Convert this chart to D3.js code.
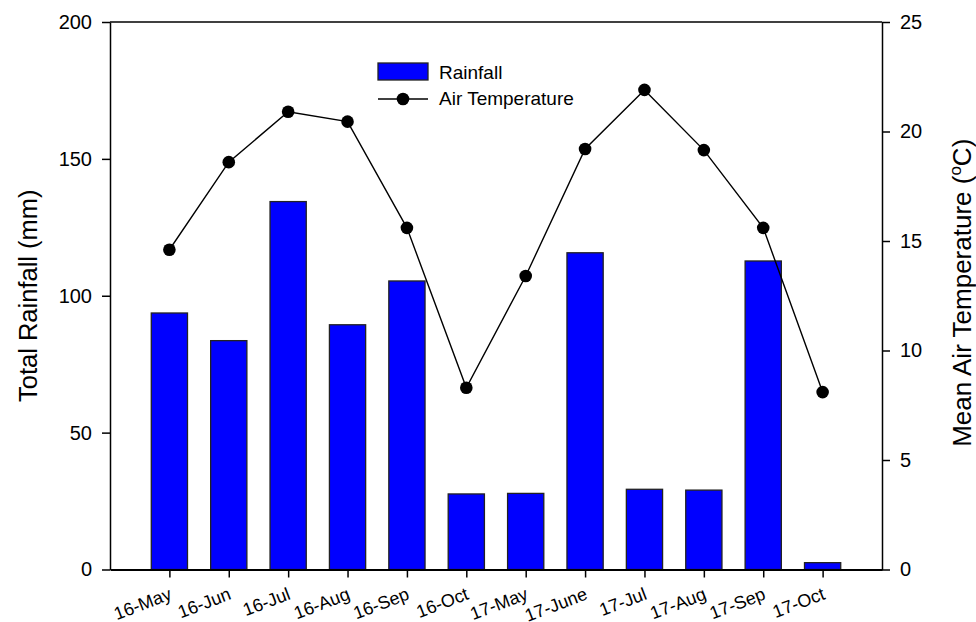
<!DOCTYPE html>
<html>
<head>
<meta charset="utf-8">
<script src="https://cdn.jsdelivr.net/npm/d3@7"></script>
<style>
    body { margin: 0; background: #fff; }
    svg text { font-family: Arial, "Liberation Sans", sans-serif; fill: #000; }
</style>
</head>
<body>
<div class="chart"></div>
<script>
var months = ["16-May", "16-Jun", "16-Jul", "16-Aug", "16-Sep", "16-Oct",
    "17-May", "17-June", "17-Jul", "17-Aug", "17-Sep", "17-Oct"];
var rainfall = [93.7, 83.6, 134.4, 89.4, 105.4, 27.6, 27.8, 115.7, 29.3, 29.0, 112.7, 2.5];
var airTemp = [14.6, 18.6, 20.9, 20.45, 15.6, 8.3, 13.4, 19.2, 21.9, 19.15, 15.6, 8.1];
var rainTicks = [0, 50, 100, 150, 200];
var tempTicks = [0, 5, 10, 15, 20, 25];

var width = 976, height = 622;
var margin = { left: 110, right: 94, top: 22, bottom: 52.5 };
var w = width - margin.left - margin.right;
var h = height - margin.top - margin.bottom;

var svg = d3.select(".chart").append("svg")
    .attr("width", width)
    .attr("height", height)
    .append("g")
    .attr("transform", "translate(" + margin.left + "," + margin.top + ")");

var xScale = d3.scalePoint()
    .domain(months)
    .range([0, w])
    .padding(1);

var yRain = d3.scaleLinear()
    .domain([0, 200])
    .range([h, 0]);

var yTemp = d3.scaleLinear()
    .domain([0, 25])
    .range([h, 0]);

var barWidth = xScale.step() * 0.61;

// bars
svg.selectAll("rect.bar")
    .data(rainfall)
    .enter().append("rect")
    .attr("class", "bar")
    .attr("x", function (d, i) { return xScale(months[i]) - barWidth / 2; })
    .attr("y", function (d) { return yRain(d); })
    .attr("width", barWidth)
    .attr("height", function (d) { return h - yRain(d); })
    .attr("fill", "#0000ff")
    .attr("stroke", "#222")
    .attr("stroke-width", 1.3);

// temperature line
var line = d3.line()
    .x(function (d, i) { return xScale(months[i]); })
    .y(function (d) { return yTemp(d); });

svg.append("path")
    .datum(airTemp)
    .attr("d", line)
    .attr("fill", "none")
    .attr("stroke", "#000")
    .attr("stroke-width", 1.4);

svg.selectAll("circle.pt")
    .data(airTemp)
    .enter().append("circle")
    .attr("class", "pt")
    .attr("cx", function (d, i) { return xScale(months[i]); })
    .attr("cy", function (d) { return yTemp(d); })
    .attr("r", 6.3)
    .attr("fill", "#000");

// top frame line
svg.append("line")
    .attr("x1", 0).attr("x2", w)
    .attr("y1", 0).attr("y2", 0)
    .attr("stroke", "#000")
    .attr("stroke-width", 1.5);

// axes
var xAxis = svg.append("g")
    .attr("transform", "translate(0," + h + ")")
    .call(d3.axisBottom(xScale).tickSize(8).tickSizeOuter(0));
xAxis.select(".domain").attr("stroke-width", 2.2);
xAxis.selectAll(".tick line").attr("stroke-width", 1.5);
xAxis.selectAll("text")
    .style("font-size", "18px")
    .attr("text-anchor", "end")
    .attr("dy", "0")
    .attr("transform", "translate(-1,19) rotate(-21)");

var leftAxis = svg.append("g")
    .call(d3.axisLeft(yRain).tickValues(rainTicks).tickSize(8).tickSizeOuter(0).tickPadding(10));
leftAxis.select(".domain").attr("stroke-width", 1.5);
leftAxis.selectAll(".tick line").attr("stroke-width", 1.5);
leftAxis.selectAll("text").style("font-size", "20px");

var rightAxis = svg.append("g")
    .attr("transform", "translate(" + w + ",0)")
    .call(d3.axisRight(yTemp).tickValues(tempTicks).tickSize(8).tickSizeOuter(0).tickPadding(10));
rightAxis.select(".domain").attr("stroke-width", 1.5);
rightAxis.selectAll(".tick line").attr("stroke-width", 1.5);
rightAxis.selectAll("text").style("font-size", "20px");

// axis titles
svg.append("text")
    .attr("transform", "translate(-73," + (h / 2) + ") rotate(-90)")
    .attr("text-anchor", "middle")
    .style("font-size", "25.5px")
    .text("Total Rainfall (mm)");

var rTitle = svg.append("text")
    .attr("transform", "translate(" + (w + 89) + "," + (h / 2 - 3) + ") rotate(-90)")
    .attr("text-anchor", "middle")
    .style("font-size", "26px");
rTitle.append("tspan").text("Mean Air Temperature (");
rTitle.append("tspan").attr("dy", "-10").style("font-size", "17px").text("o");
rTitle.append("tspan").attr("dy", "10").text("C)");

// legend
var legend = svg.append("g")
    .attr("transform", "translate(" + (378 - margin.left) + "," + (63 - margin.top) + ")");

legend.append("rect")
    .attr("width", 50)
    .attr("height", 17)
    .attr("fill", "#0000ff")
    .attr("stroke", "#222")
    .attr("stroke-width", 1.3);

legend.append("text")
    .attr("x", 61)
    .attr("y", 15.5)
    .style("font-size", "19px")
    .text("Rainfall");

legend.append("line")
    .attr("x1", 0).attr("x2", 50)
    .attr("y1", 36).attr("y2", 36)
    .attr("stroke", "#000")
    .attr("stroke-width", 1.4);

legend.append("circle")
    .attr("cx", 25)
    .attr("cy", 36)
    .attr("r", 6.3)
    .attr("fill", "#000");

legend.append("text")
    .attr("x", 61)
    .attr("y", 42)
    .style("font-size", "19px")
    .text("Air Temperature");
</script>
</body>
</html>
